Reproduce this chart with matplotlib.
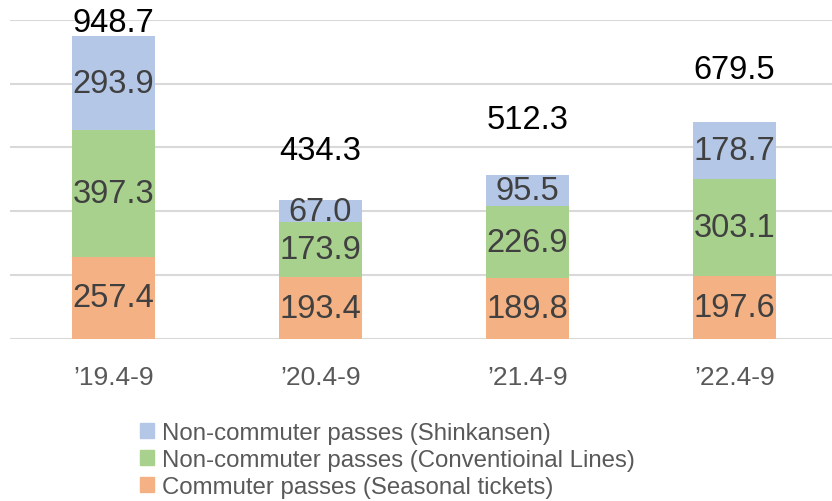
import matplotlib.pyplot as plt
from matplotlib.patches import Patch

plt.rcParams['font.family'] = ['Liberation Sans', 'DejaVu Sans']

periods = ["\u201919.4-9", "\u201920.4-9", "\u201921.4-9", "\u201922.4-9"]
commuter = [257.4, 193.4, 189.8, 197.6]
conventional = [397.3, 173.9, 226.9, 303.1]
shinkansen = [293.9, 67.0, 95.5, 178.7]
totals = [948.7, 434.3, 512.3, 679.5]
# where the total labels sit (manually placed in the original)
total_label_y = [992, 591, 688, 845]

series_names = ["Non-commuter passes (Shinkansen)",
                "Non-commuter passes (Conventioinal Lines)",
                "Commuter passes (Seasonal tickets)"]
c_blue = "#B4C7E7"
c_green = "#A9D18E"
c_orange = "#F4B183"

fig = plt.figure(figsize=(8.32, 5.02), dpi=100)
ax = fig.add_axes([10 / 832, 0.3227, 828 / 832, 0.6361])

x = range(len(periods))
w = 0.4
fs = 23.5
bottoms2 = [a + b for a, b in zip(commuter, conventional)]
ax.bar(x, commuter, w, color=c_orange, zorder=2)
ax.bar(x, conventional, w, bottom=commuter, color=c_green, zorder=2)
ax.bar(x, shinkansen, w, bottom=bottoms2, color=c_blue, zorder=2)

for i in x:
    ax.text(i, commuter[i] / 2, f"{commuter[i]:.1f}", ha='center', va='center',
            fontsize=fs, color='#404040', zorder=3)
    ax.text(i, commuter[i] + conventional[i] / 2, f"{conventional[i]:.1f}",
            ha='center', va='center', fontsize=fs, color='#404040', zorder=3)
    ax.text(i, bottoms2[i] + shinkansen[i] / 2, f"{shinkansen[i]:.1f}",
            ha='center', va='center', fontsize=fs, color='#404040', zorder=3)
    ax.text(i, total_label_y[i], f"{totals[i]:.1f}", ha='center', va='center',
            fontsize=fs, color='black', zorder=3)

ax.set_xlim(-0.5, 3.5)
ax.set_ylim(0, 1000)
ax.set_yticks(range(0, 1001, 200))
ax.yaxis.grid(True, color='#D9D9D9', linewidth=1.5, zorder=0)
ax.set_axisbelow(True)
ax.tick_params(axis='y', left=False, labelleft=False)
ax.tick_params(axis='x', length=0, pad=19, labelsize=19, labelcolor='#595959')
ax.set_xticks(list(x))
ax.set_xticklabels(periods)
for s in ax.spines.values():
    s.set_visible(False)

handles = [Patch(color=c_blue), Patch(color=c_green), Patch(color=c_orange)]
fig.legend(handles, series_names, loc='upper left',
           bbox_to_anchor=(140 / 832, 1 - 423 / 502), frameon=False,
           fontsize=17.3, labelcolor='#595959', handlelength=0.6,
           handleheight=0.6, handletextpad=0.3, labelspacing=0.2,
           borderpad=0, borderaxespad=0)

fig.savefig("out.png", dpi=100)
